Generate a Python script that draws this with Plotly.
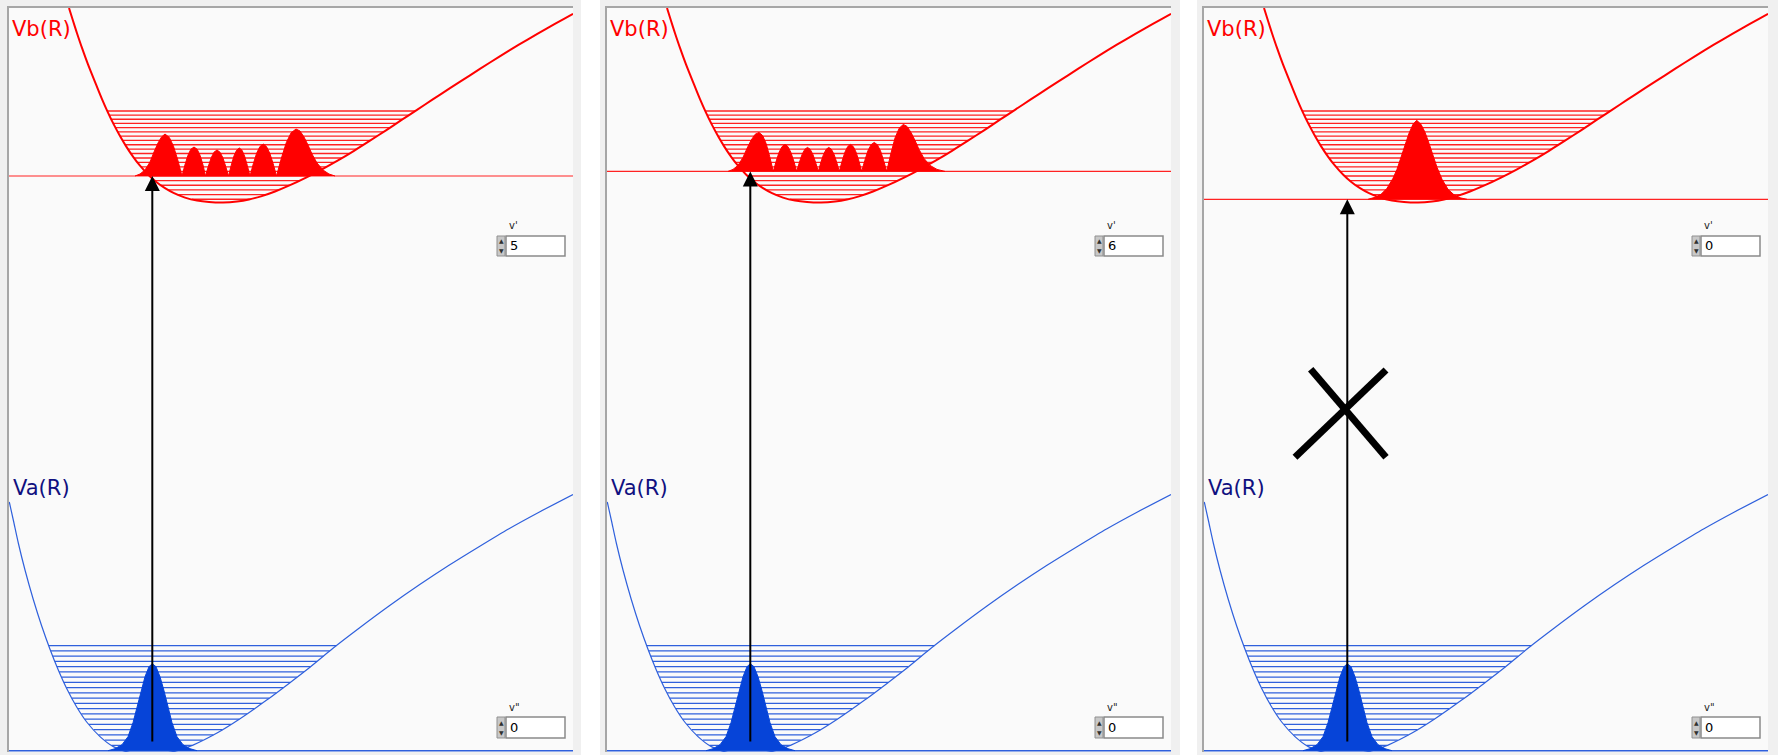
import plotly.graph_objects as go

# ---------------------------------------------------------------------------
# Potential curves (R in arbitrary units across each panel, energy E upward)
# ---------------------------------------------------------------------------
# Upper electronic state Vb(R)
VB_R = [60, 64, 68, 73, 79, 87, 93, 99, 105, 111, 117, 124, 131, 139, 147, 156, 165,
        176, 188, 200, 214, 228, 240, 252, 266, 281, 297, 313, 329, 345, 361, 377,
        393, 408, 423, 441, 461, 481, 500, 519, 538, 555, 564]
VB_E = [744, 731.2, 718.8, 704.1, 687.6, 667.6, 652.9, 639.4, 627.1, 616.0, 605.9, 595.4,
        586.3, 577.5, 570.3, 563.8, 558.8, 554.4, 551.4, 550.0, 549.5, 550.5, 552.5, 555.6,
        560.5, 566.8, 574.4, 582.7, 591.6, 601.2, 611.3, 621.7, 632.3, 642.2, 652.1, 663.8,
        676.7, 689.5, 701.3, 712.7, 723.7, 733.2, 738.2]

# Lower electronic state Va(R)
VA_R = [0.3, 4.3, 9.3, 16, 24.3, 32.7, 41, 49.3, 57.7, 67.7, 77.7, 91, 104.3, 124.3,
        144.3, 164, 184, 208, 231, 257, 280, 300, 324, 350, 380, 410, 440, 470, 500,
        530, 564]
VA_E = [250, 232, 209, 182, 152.5, 126, 102.8, 82, 63.5, 45, 30, 15.4, 5.4, -1.3, -2,
        0.3, 6.9, 18.9, 33.2, 51.4, 68.6, 84, 103.7, 123.7, 145.9, 166.9, 186.7, 205.3,
        223.3, 239.8, 257.5]

# Vibrational levels of Vb: energy and inner / outer turning points (v' = 0..20)
VB_LEVEL_E = [552.7, 557.4, 562.1, 566.8, 571.4, 576.0, 580.6, 585.1, 589.6, 594.0,
              598.5, 602.9, 607.2, 611.6, 615.9, 620.1, 624.4, 628.6, 632.7, 636.9, 641.0]
VB_LEVEL_L = [182.8, 168.5, 159.0, 151.8, 145.7, 140.6, 136.1, 132.0, 128.4, 125.0,
              121.9, 119.0, 116.2, 113.6, 111.0, 108.8, 106.4, 104.2, 102.2, 100.2, 98.3]
VB_LEVEL_R = [240.7, 257.0, 269.7, 280.9, 290.7, 300.2, 309.0, 317.3, 325.4, 332.9,
              340.4, 347.6, 354.5, 361.4, 368.0, 374.5, 381.1, 387.4, 393.6, 400.0, 406.2]

# Vibrational levels of Va (v" = 0..20)
VA_LEVEL_E = [1.3, 6.6, 11.8, 17.1, 22.3, 27.6, 32.8, 38.1, 43.3, 48.6, 53.8, 59.1,
              64.3, 69.6, 74.8, 80.1, 85.3, 90.6, 95.8, 101.1, 106.3]
VA_LEVEL_L = [116.1, 102.7, 95.8, 89.5, 84.7, 79.9, 75.8, 72.3, 68.8, 65.8, 62.9, 60.1,
              57.3, 54.9, 52.6, 50.2, 48.0, 45.9, 43.8, 41.7, 39.7]
VA_LEVEL_R = [167.0, 183.1, 193.8, 204.4, 213.5, 222.0, 230.4, 238.0, 245.4, 253.0,
              260.2, 267.3, 274.3, 281.3, 288.1, 294.9, 301.6, 308.0, 314.4, 320.8, 327.4]

# Vibrational densities (drawn on top of their level)
PSI_B = {
    5: ([126, 131, 136, 141, 145, 149, 152.5, 156, 160.3, 164.5, 168.8, 173,
         175.9, 178.9, 181.8, 185, 188.2, 191.1, 194, 196.5,
         199.4, 202.3, 205.1, 208, 210.9, 213.8, 216.6, 219.5,
         222.2, 224.9, 227.6, 230.3, 233, 235.6, 238.3, 241,
         244.3, 247.6, 250.9, 254.2, 257.5, 260.8, 264.2, 267.5,
         272.4, 277.3, 282.1, 287, 291, 295, 299, 303, 308, 314, 320, 326],
        [0, 2, 6, 14, 24, 33, 39, 42, 38.6, 29.8, 16, 0,
         11, 20.6, 26.7, 29, 26.7, 20.6, 11, 0,
         9.9, 18.5, 23.9, 26, 23.9, 18.5, 9.9, 0,
         10.6, 19.9, 25.8, 28, 25.8, 19.9, 10.6, 0,
         12.2, 22.7, 29.4, 32, 29.4, 22.7, 12.2, 0,
         17.9, 33.4, 43.2, 47, 45, 39, 31, 22, 13, 6, 2, 0]),
    6: ([121, 126, 131, 136, 140, 144, 148, 152, 155.6, 159.2, 162.7, 166.3,
         169.2, 172.1, 175.1, 178, 180.9, 183.8, 186.8, 189.7,
         192.4, 195.1, 197.8, 200.5, 203.2, 205.9, 208.6, 211.3,
         213.9, 216.5, 219.2, 221.8, 224.4, 227.1, 229.7, 232.3,
         235.1, 237.9, 240.7, 243.5, 246.3, 249.1, 251.9, 254.7,
         257.8, 260.9, 264.1, 267.2, 270.3, 273.5, 276.6, 279.7,
         283.9, 288, 292.2, 296.3, 300, 304, 308, 312, 317, 323, 330, 338],
        [0, 2, 6, 14, 23, 31, 37, 39, 35.9, 27.7, 14.8, 0,
         10.3, 19.2, 24.8, 27, 24.8, 19.2, 10.3, 0,
         9.1, 17, 22.1, 24, 22.1, 17, 9.1, 0,
         9.1, 17, 22.1, 24, 22.1, 17, 9.1, 0,
         10.3, 19.2, 24.8, 27, 24.8, 19.2, 10.3, 0,
         11, 20.6, 26.7, 29, 26.7, 20.6, 11, 0,
         17.9, 33.4, 43.2, 47, 45, 39, 31, 22, 13, 6, 2, 0]),
    0: ([164, 171, 177, 183, 189, 193, 197, 201, 205, 209, 212.7, 217, 221, 225, 229,
         233, 238, 244, 250, 256, 263],
        [0, 2, 5, 11, 21, 30, 42, 54, 66, 75, 79, 75, 67, 56, 44, 32, 20, 10, 4.5, 1.5, 0]),
}
PSI_A = {
    0: ([99, 106, 113, 119, 124, 128, 132, 136, 140, 143.3, 147, 151, 155, 159, 163,
         168, 174, 181, 188],
        [0, 2, 6, 14, 28, 44, 60, 74, 84, 87, 84, 74, 60, 44, 28, 14, 6, 2, 0]),
}

# Selected quantum numbers in each panel
V_UPPER = [5, 6, 0]
V_LOWER = [0, 0, 0]
ALLOWED = [True, True, False]

# Vertical transition
R_TRANSITION = 143.3
E_TRANSITION_START = 9

# Cross marking the forbidden transition
CROSS_A_R, CROSS_A_E = [106.7, 182], [382.7, 294.7]
CROSS_B_R, CROSS_B_E = [182, 91], [382, 294.7]

# ---------------------------------------------------------------------------
W, H = 1778, 755
PANEL_LEFT = [9, 607, 1204]
PANEL_W = 564
PLOT_TOP, PLOT_BOTTOM = 8, 752
R_MAX, E_MAX = 564, 744

RED = "#ff0000"
RED_LEVEL = "#ff2222"
BLUE = "#2f60dc"
BLUE_FILL = "#0644d8"
NAVY = "#101080"
FONT = "DejaVu Sans"

fig = go.Figure()


def level_segments(left, right, energy):
    xs, ys = [], []
    for l, r, e in zip(left, right, energy):
        xs += [l, r, None]
        ys += [e, e, None]
    return xs, ys


shapes = []
annotations = []

for i in range(3):
    sfx = "" if i == 0 else str(i + 1)
    xa, ya = "x" + sfx, "y" + sfx
    vu, vl = V_UPPER[i], V_LOWER[i]
    eu, el = VB_LEVEL_E[vu], VA_LEVEL_E[vl]

    common = dict(xaxis=xa, yaxis=ya, hoverinfo="skip", showlegend=False)

    # level ladders
    lx, ly = level_segments(VB_LEVEL_L, VB_LEVEL_R, VB_LEVEL_E)
    fig.add_trace(go.Scatter(x=lx, y=ly, mode="lines",
                             line=dict(color=RED_LEVEL, width=1.4), **common))
    lx, ly = level_segments(VA_LEVEL_L, VA_LEVEL_R, VA_LEVEL_E)
    fig.add_trace(go.Scatter(x=lx, y=ly, mode="lines",
                             line=dict(color=BLUE, width=1.3), **common))

    # selected levels across the whole panel
    fig.add_trace(go.Scatter(x=[0, R_MAX], y=[eu, eu], mode="lines",
                             line=dict(color=RED_LEVEL, width=1.2), **common))
    fig.add_trace(go.Scatter(x=[0, R_MAX], y=[el, el], mode="lines",
                             line=dict(color=BLUE, width=1.4), **common))

    # potential curves
    fig.add_trace(go.Scatter(x=VB_R, y=VB_E, mode="lines",
                             line=dict(color=RED, width=2, shape="spline", smoothing=0.8),
                             **common))
    fig.add_trace(go.Scatter(x=VA_R, y=VA_E, mode="lines",
                             line=dict(color=BLUE, width=1.2, shape="spline", smoothing=0.8),
                             **common))

    # vibrational densities
    pr, pa = PSI_B[vu]
    fig.add_trace(go.Scatter(x=pr, y=[eu + a for a in pa], mode="lines",
                             fill="toself", fillcolor=RED,
                             line=dict(color=RED, width=1), **common))
    pr, pa = PSI_A[vl]
    fig.add_trace(go.Scatter(x=pr, y=[el + a for a in pa], mode="lines",
                             fill="toself", fillcolor=BLUE_FILL,
                             line=dict(color=BLUE_FILL, width=1), **common))

    if not ALLOWED[i]:
        for cr, ce in ((CROSS_A_R, CROSS_A_E), (CROSS_B_R, CROSS_B_E)):
            fig.add_trace(go.Scatter(x=cr, y=ce, mode="lines",
                                     line=dict(color="black", width=7), **common))

    # transition arrow
    annotations.append(dict(
        x=R_TRANSITION, y=eu, ax=R_TRANSITION, ay=E_TRANSITION_START,
        xref=xa, yref=ya, axref=xa, ayref=ya, text="", showarrow=True,
        arrowhead=2, arrowsize=1.5, arrowwidth=2, arrowcolor="black", standoff=0))

    # state labels
    annotations.append(dict(x=1, y=723, xref=xa, yref=ya, text="Vb(R)",
                            showarrow=False, xanchor="left", yanchor="middle",
                            font=dict(family=FONT, size=21, color=RED)))
    annotations.append(dict(x=2, y=264, xref=xa, yref=ya, text="Va(R)",
                            showarrow=False, xanchor="left", yanchor="middle",
                            font=dict(family=FONT, size=21, color=NAVY)))

    # numeric controls for v' and v"
    for lab, val, e0, e1 in (("v'", vu, 496, 516), ('v"', vl, 14, 35)):
        shapes.append(dict(type="rect", xref=xa, yref=ya, x0=497, x1=556, y0=e0, y1=e1,
                           fillcolor="white", line=dict(color="#8a8a8a", width=1.5)))
        shapes.append(dict(type="rect", xref=xa, yref=ya, x0=488, x1=496, y0=e0, y1=e1,
                           fillcolor="#c8c8c8", line=dict(color="#909090", width=1)))
        mid = (e0 + e1) / 2
        annotations.append(dict(x=492, y=mid + 5, xref=xa, yref=ya, text="▲",
                                showarrow=False, font=dict(family=FONT, size=6, color="#303030")))
        annotations.append(dict(x=492, y=mid - 5, xref=xa, yref=ya, text="▼",
                                showarrow=False, font=dict(family=FONT, size=6, color="#303030")))
        annotations.append(dict(x=499, y=mid, xref=xa, yref=ya, text=str(val),
                                showarrow=False, xanchor="left", yanchor="middle",
                                font=dict(family=FONT, size=13, color="black")))
        annotations.append(dict(x=498, y=e1 + 10, xref=xa, yref=ya, text=lab,
                                showarrow=False, xanchor="left", yanchor="middle",
                                font=dict(family=FONT, size=10, color="#222222")))

# white gaps between the panel frames
for g0, g1 in ((581, 600), (1180, 1197)):
    shapes.append(dict(type="rect", xref="paper", yref="paper", x0=g0 / W, x1=g1 / W,
                       y0=0, y1=1, fillcolor="white", line=dict(width=0), layer="below"))

layout = dict(
    width=W, height=H,
    margin=dict(l=0, r=0, t=0, b=0),
    paper_bgcolor="#f0f0f0",
    plot_bgcolor="#fafafa",
    showlegend=False,
    shapes=shapes,
    annotations=annotations,
)
for i, left in enumerate(PANEL_LEFT):
    sfx = "" if i == 0 else str(i + 1)
    layout["xaxis" + sfx] = dict(
        domain=[left / W, (left + PANEL_W) / W], range=[0, R_MAX], anchor="y" + sfx,
        side="top", showline=True, linecolor="#a6a6a6", linewidth=1.5,
        showgrid=False, zeroline=False, showticklabels=False, ticks="", fixedrange=True)
    layout["yaxis" + sfx] = dict(
        domain=[1 - PLOT_BOTTOM / H, 1 - PLOT_TOP / H], range=[0, E_MAX], anchor="x" + sfx,
        showline=True, linecolor="#a6a6a6", linewidth=1.5,
        showgrid=False, zeroline=False, showticklabels=False, ticks="", fixedrange=True)

fig.update_layout(**layout)
fig.write_html("out.html")
